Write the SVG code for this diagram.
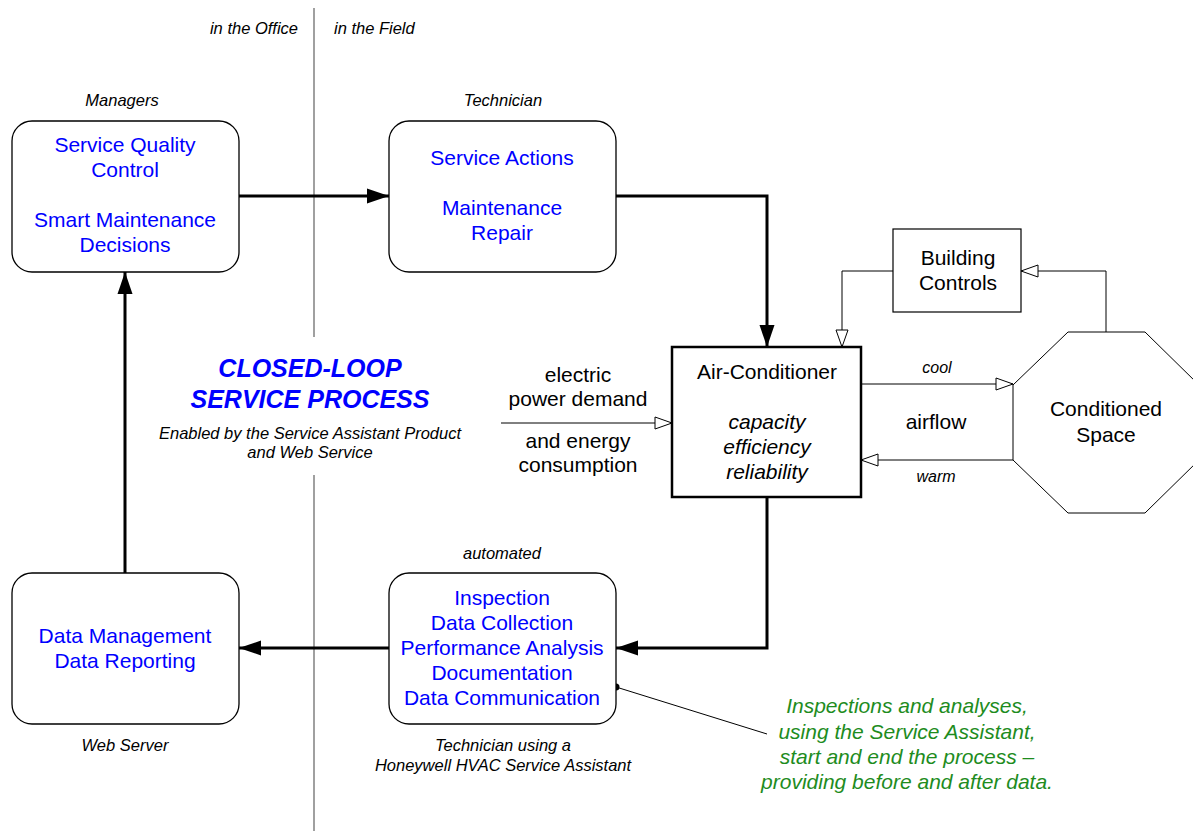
<svg xmlns="http://www.w3.org/2000/svg" width="1193" height="831" viewBox="0 0 1193 831">
  <style>
    text { font-family: "Liberation Sans", Arial, sans-serif; text-anchor: middle; }
    .blue { fill: #0000ff; font-size: 21px; }
    .blk { fill: #000; font-size: 21px; }
    .note { fill: #000; font-size: 16.5px; font-style: italic; }
    .title { fill: #0000ff; font-size: 25px; font-style: italic; font-weight: bold; }
    .green { fill: #1e8c1e; font-size: 21px; font-style: italic; }
    .rbox { fill: #fff; stroke: #000; stroke-width: 1.3; }
    .thick { fill: none; stroke: #000; stroke-width: 3; }
    .thin { fill: none; stroke: #000; stroke-width: 1; }
    .divider { stroke: #808080; stroke-width: 1.5; }
  </style>
  <defs>
    <marker id="solid" markerUnits="userSpaceOnUse" markerWidth="22" markerHeight="15" refX="22" refY="7.5" orient="auto" overflow="visible">
      <path d="M0,0 L22,7.5 L0,15 z" fill="#000"/>
    </marker>
    <marker id="open" markerUnits="userSpaceOnUse" markerWidth="17" markerHeight="12" refX="17" refY="6" orient="auto" overflow="visible">
      <path d="M0,0 L17,6 L0,12 z" fill="#fff" stroke="#000" stroke-width="1"/>
    </marker>
  </defs>
  <rect width="1193" height="831" fill="#fff"/>

  <!-- office / field divider -->
  <g id="divider">
    <line class="divider" x1="314" y1="8" x2="314" y2="337"/>
    <line class="divider" x1="314" y1="475" x2="314" y2="831"/>
    <text class="note" x="298" y="34" style="text-anchor:end">in the Office</text>
    <text class="note" x="334" y="34" style="text-anchor:start">in the Field</text>
  </g>

  <!-- central caption -->
  <g id="caption">
    <text class="title" x="310" y="377">CLOSED-LOOP</text>
    <text class="title" x="310" y="408">SERVICE PROCESS</text>
    <text class="note" x="310" y="439">Enabled by the Service Assistant Product</text>
    <text class="note" x="310" y="458">and Web Service</text>
  </g>

  <!-- connectors -->
  <g id="connectors">
    <path class="thick" d="M239,196 L389,196" marker-end="url(#solid)"/>
    <path class="thick" d="M616,196 L767,196 L767,347" marker-end="url(#solid)"/>
    <path class="thick" d="M767,497 L767,648 L616,648" marker-end="url(#solid)"/>
    <path class="thick" d="M389,648 L239,648" marker-end="url(#solid)"/>
    <path class="thick" d="M125,573 L125,272" marker-end="url(#solid)"/>
    <path class="thin" d="M893,271 L842,271 L842,347" marker-end="url(#open)"/>
    <path class="thin" d="M1106,332 L1106,271 L1021,271" marker-end="url(#open)"/>
    <path class="thin" d="M861,384 L1013,384" marker-end="url(#open)"/>
    <path class="thin" d="M1013,460 L861,460" marker-end="url(#open)"/>
    <path class="thin" d="M501,423 L672,423" marker-end="url(#open)"/>
    <path class="thin" d="M616,687 L767,734"/>
    <circle cx="616" cy="687" r="3.5" fill="#000"/>
  </g>

  <g id="managers">
    <text class="note" x="122" y="106">Managers</text>
    <rect class="rbox" x="12" y="121" width="227" height="151" rx="20"/>
    <text class="blue" x="125" y="152">Service Quality</text>
    <text class="blue" x="125" y="177">Control</text>
    <text class="blue" x="125" y="227">Smart Maintenance</text>
    <text class="blue" x="125" y="252">Decisions</text>
  </g>

  <g id="technician">
    <text class="note" x="503" y="106">Technician</text>
    <rect class="rbox" x="389" y="121" width="227" height="151" rx="20"/>
    <text class="blue" x="502" y="165">Service Actions</text>
    <text class="blue" x="502" y="215">Maintenance</text>
    <text class="blue" x="502" y="240">Repair</text>
  </g>

  <g id="power">
    <text class="blk" x="578" y="382">electric</text>
    <text class="blk" x="578" y="406">power demand</text>
    <text class="blk" x="578" y="448">and energy</text>
    <text class="blk" x="578" y="472">consumption</text>
  </g>

  <g id="air-conditioner">
    <rect x="672" y="347" width="189" height="150" fill="#fff" stroke="#000" stroke-width="2.5"/>
    <text class="blk" x="767" y="379">Air-Conditioner</text>
    <text class="blk" x="767" y="429" font-style="italic">capacity</text>
    <text class="blk" x="767" y="454" font-style="italic">efficiency</text>
    <text class="blk" x="767" y="479" font-style="italic">reliability</text>
  </g>

  <g id="building-controls">
    <rect x="893" y="229" width="128" height="83" fill="#fff" stroke="#000" stroke-width="1.2"/>
    <text class="blk" x="958" y="265">Building</text>
    <text class="blk" x="958" y="290">Controls</text>
  </g>

  <g id="airflow">
    <text class="note" x="937" y="373" style="font-size:16px">cool</text>
    <text class="blk" x="936" y="429">airflow</text>
    <text class="note" x="936" y="482" style="font-size:16px">warm</text>
  </g>

  <g id="conditioned-space">
    <polygon points="1068,332 1145,332 1199,385 1199,460 1145,513 1068,513 1013,460 1013,385" fill="#fff" stroke="#000" stroke-width="1"/>
    <text class="blk" x="1106" y="416">Conditioned</text>
    <text class="blk" x="1106" y="442">Space</text>
  </g>

  <g id="service-assistant">
    <text class="note" x="502" y="559">automated</text>
    <rect class="rbox" x="389" y="573" width="227" height="151" rx="20"/>
    <text class="blue" x="502" y="605">Inspection</text>
    <text class="blue" x="502" y="630">Data Collection</text>
    <text class="blue" x="502" y="655">Performance Analysis</text>
    <text class="blue" x="502" y="680">Documentation</text>
    <text class="blue" x="502" y="705">Data Communication</text>
    <text class="note" x="503" y="751">Technician using a</text>
    <text class="note" x="503" y="771">Honeywell HVAC Service Assistant</text>
  </g>

  <g id="web-server">
    <rect class="rbox" x="12" y="573" width="227" height="151" rx="20"/>
    <text class="blue" x="125" y="643">Data Management</text>
    <text class="blue" x="125" y="668">Data Reporting</text>
    <text class="note" x="125" y="751">Web Server</text>
  </g>

  <g id="remark">
    <text class="green" x="907" y="713">Inspections and analyses,</text>
    <text class="green" x="907" y="739">using the Service Assistant,</text>
    <text class="green" x="907" y="764">start and end the process –</text>
    <text class="green" x="907" y="789">providing before and after data.</text>
  </g>
</svg>
